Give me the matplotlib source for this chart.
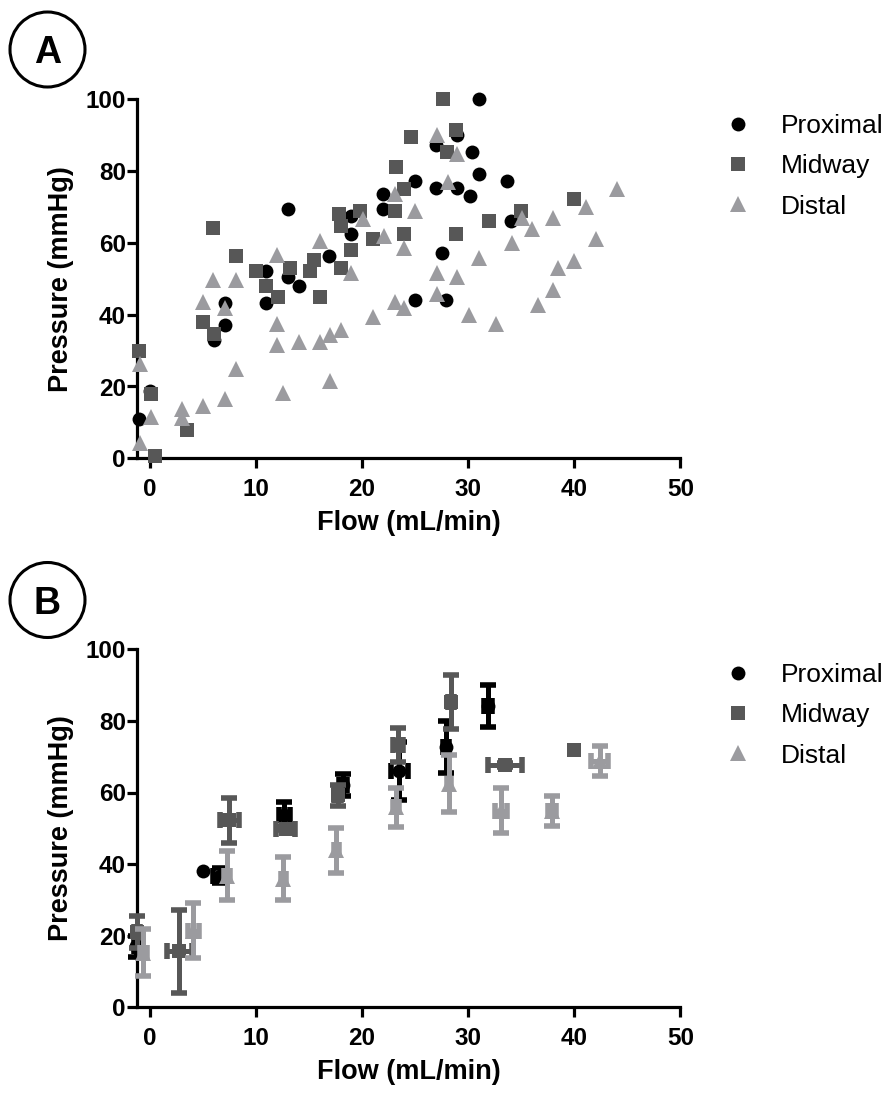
import matplotlib.pyplot as plt
from matplotlib.lines import Line2D
from matplotlib.patches import Circle

plt.rcParams['font.family'] = ['Liberation Sans', 'DejaVu Sans']

names = ['Proximal', 'Midway', 'Distal']
colors = ['#000000', '#575757', '#9b9b9f']
markers = ['o', 's', '^']
msizes = [10, 10.5, 11]

# panel A: individual measurements
prox_flow = [-1.0, 0.0, 6.1, 7.1, 7.1, 11.0, 11.0, 13.0, 13.0, 14.1, 16.9, 19.0, 19.0, 22.0, 22.0,
             25.0, 25.0, 27.0, 27.0, 27.5, 27.9, 29.0, 29.0, 30.2, 30.4, 31.0, 31.0, 33.7, 34.0]
prox_press = [10.9, 18.8, 32.9, 43.2, 37.1, 43.2, 52.1, 69.4, 50.6, 48.0, 56.3, 62.4, 67.5, 73.6, 69.4,
              77.3, 44.1, 87.2, 75.2, 57.2, 44.1, 90.0, 75.2, 73.1, 85.3, 79.2, 100.0, 77.3, 66.1]

mid_flow = [-1.0, 0.1, 0.5, 3.5, 5.0, 6.0, 6.1, 8.1, 10.0, 11.0, 12.1, 13.2, 15.1, 15.5, 16.0, 17.8,
            18.0, 18.0, 19.0, 19.8, 21.0, 23.1, 23.2, 24.0, 24.0, 24.6, 27.6, 28.0, 28.9, 28.9, 32.0,
            35.0, 40.0]
mid_press = [30.0, 17.9, 0.6, 7.8, 38.0, 64.2, 34.7, 56.3, 52.1, 48.0, 45.0, 53.0, 52.1, 55.3, 45.0, 68.0,
             64.7, 53.0, 58.1, 68.9, 61.1, 68.9, 81.1, 75.0, 62.4, 89.5, 100.0, 85.3, 91.4, 62.4, 66.1,
             68.9, 72.2]

dist_flow = [-0.9, -0.9, 0.1, 3.0, 3.0, 5.0, 5.0, 6.0, 7.1, 7.1, 8.1, 8.1, 12.0, 12.0, 12.0, 12.6, 14.1,
             16.0, 16.0, 17.0, 17.0, 18.0, 19.0, 20.1, 21.0, 22.1, 23.1, 23.1, 24.0, 24.0, 25.0, 27.1,
             27.1, 27.1, 28.1, 29.0, 29.0, 30.1, 31.0, 32.6, 34.1, 35.1, 36.0, 36.6, 38.0, 38.0, 38.5,
             40.0, 41.1, 42.1, 44.0]
dist_press = [26.3, 4.3, 11.5, 13.7, 11.3, 14.6, 43.6, 49.7, 41.8, 16.5, 49.7, 24.9, 56.7, 37.5, 31.5,
              18.3, 32.4, 32.4, 60.5, 34.3, 21.6, 35.7, 51.6, 66.6, 39.4, 61.9, 73.6, 43.6, 58.6, 41.8,
              68.9, 90.0, 51.6, 45.9, 76.9, 84.8, 50.6, 39.9, 55.8, 37.5, 60.0, 67.0, 63.8, 42.7, 66.8,
              46.9, 53.0, 54.9, 69.9, 61.0, 75.0]

# panel B: binned means with error bars (0 = no bar drawn)
prox_b_flow = [-1.3, 5.0, 6.6, 12.7, 18.2, 23.5, 27.9, 31.9]
prox_b_press = [17.0, 38.2, 36.8, 53.8, 62.1, 66.0, 72.7, 84.1]
prox_b_yerr = [3.0, 0.0, 2.0, 3.5, 3.0, 8.0, 7.2, 5.8]
prox_b_xerr = [0.2, 0.0, 0.6, 0.5, 0.4, 0.8, 0.3, 0.4]

mid_b_flow = [-1.2, 2.8, 7.5, 12.8, 17.7, 23.4, 28.4, 33.5, 40.0]
mid_b_press = [21.0, 15.6, 52.2, 49.9, 59.2, 73.2, 85.3, 67.7, 72.0]
mid_b_yerr = [4.5, 11.5, 6.3, 0.5, 3.0, 4.7, 7.5, 0.5, 0.0]
mid_b_xerr = [0.3, 1.2, 0.9, 0.9, 0.3, 0.5, 0.3, 1.6, 0.0]

dist_b_flow = [-0.6, 4.1, 7.3, 12.6, 17.6, 23.2, 28.2, 33.1, 37.9, 42.4]
dist_b_press = [15.3, 21.4, 36.8, 35.9, 43.8, 55.9, 62.5, 54.9, 54.9, 68.9]
dist_b_yerr = [6.5, 7.7, 6.8, 6.0, 6.4, 5.4, 8.0, 6.3, 4.2, 4.2]
dist_b_xerr = [0.3, 0.5, 0.3, 0.2, 0.2, 0.3, 0.2, 0.6, 0.4, 0.8]

W, H = 896, 1093
fig = plt.figure(figsize=(W / 100, H / 100), dpi=100)
axA = fig.add_axes([137 / W, 1 - 458.3 / H, 543.3 / W, 359 / H])
axB = fig.add_axes([137 / W, 1 - 1007.3 / H, 543.3 / W, 358 / H])

series_a = [(prox_flow, prox_press), (mid_flow, mid_press), (dist_flow, dist_press)]
for (fx, py), c, m, ms in zip(series_a, colors, markers, msizes):
    axA.plot(fx, py, ls='none', marker=m, color=c, ms=ms, mew=0, clip_on=False, zorder=3)


def no_zero(errs):
    return [e if e > 0 else float('nan') for e in errs]


series_b = [(prox_b_flow, prox_b_press, prox_b_xerr, prox_b_yerr),
            (mid_b_flow, mid_b_press, mid_b_xerr, mid_b_yerr),
            (dist_b_flow, dist_b_press, dist_b_xerr, dist_b_yerr)]
for i, ((fx, py, xe, ye), c, m, ms) in enumerate(zip(series_b, colors, markers, msizes)):
    eb = axB.errorbar(fx, py, xerr=no_zero(xe), yerr=no_zero(ye), fmt=m, color=c, ms=ms,
                      elinewidth=3.6, capsize=6, capthick=4, clip_on=False, zorder=3 + i)
    eb.lines[0].set_markeredgewidth(0)
    for part in eb.lines[1] + eb.lines[2]:
        part.set_clip_on(False)
        part.set_zorder(3 + i)

handles = [Line2D([], [], ls='none', marker=m, color=c, ms=ms, mew=0)
           for c, m, ms in zip(colors, markers, msizes)]

for ax, top, letter, cy in [(axA, 114, 'A', 49.5), (axB, 663, 'B', 600)]:
    ax.set_xlim(-1.2, 50)
    ax.set_ylim(0, 100)
    ax.set_xticks(range(0, 51, 10))
    ax.set_yticks(range(0, 101, 20))
    ax.spines['top'].set_visible(False)
    ax.spines['right'].set_visible(False)
    ax.spines['left'].set_linewidth(2.3)
    ax.spines['bottom'].set_linewidth(2.3)
    ax.tick_params(axis='both', length=7, width=2.3, labelsize=17.5, direction='out')
    ax.tick_params(axis='y', pad=1)
    ax.tick_params(axis='x', pad=7)
    for lab in ax.get_xticklabels() + ax.get_yticklabels():
        lab.set_fontweight('bold')
    ax.set_xlabel('Flow (mL/min)', fontsize=19.5, fontweight='bold', labelpad=7)
    ax.set_ylabel('Pressure (mmHg)', fontsize=19.5, fontweight='bold', labelpad=8.5)
    ax.legend(handles, names, loc='upper left', bbox_to_anchor=(725 / W, 1 - top / H),
              bbox_transform=fig.transFigure, frameon=False, fontsize=19,
              handlelength=1.0, handletextpad=1.1, labelspacing=0.62,
              borderpad=0, borderaxespad=0)

    # circled panel letter
    fig.add_artist(Circle((0.475, (H - cy) / 100), 0.375, transform=fig.dpi_scale_trans,
                          fill=False, lw=2.2, color='black'))
    fig.text(0.475, (H - cy) / 100 - 0.135, letter, transform=fig.dpi_scale_trans,
             ha='center', va='baseline', fontsize=27, fontweight='bold')

fig.savefig('out.png', dpi=100)
